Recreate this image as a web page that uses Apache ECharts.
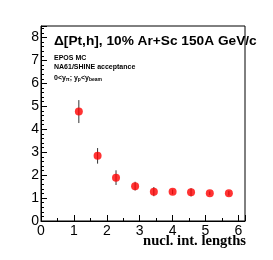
<!DOCTYPE html>
<html><head><meta charset="utf-8">
<script src="https://cdn.jsdelivr.net/npm/echarts@6/dist/echarts.min.js"></script>
<style>html,body{margin:0;padding:0;background:#fff}#c{width:273px;height:260px}</style>
</head><body><div id="c"></div>
<script>
const xVals = [1.15, 1.72, 2.28, 2.86, 3.43, 4.00, 4.56, 5.13, 5.71];
const yVals = [4.77, 2.84, 1.89, 1.52, 1.28, 1.27, 1.25, 1.21, 1.21];
const yErr  = [0.50, 0.34, 0.32, 0.19, 0.20, 0.10, 0.18, 0.08, 0.10];
const xTickLabels = ['0','1','2','3','4','5','6'];
const yTickLabels = ['0','1','2','3','4','5','6','7','8'];

const pts = xVals.map((x,i)=>[x, yVals[i]]);
const errs = xVals.map((x,i)=>[x, yVals[i]-yErr[i], yVals[i]+yErr[i]]);
const chart = echarts.init(document.getElementById('c'), null, {renderer:'canvas'});
const labelFmt = (arr)=> v => { const s = String(v); return arr.indexOf(s) >= 0 ? s : ''; };
chart.setOption({
  animation:false,
  grid:{left:41, top:26, width:204, height:195, show:true, borderColor:'#000', borderWidth:1, backgroundColor:'transparent'},
  xAxis:{type:'value', min:0, max:6.2, interval:1,
    axisLine:{show:true, onZero:false, lineStyle:{color:'#000', width:1}},
    axisTick:{show:true, inside:true, length:6, lineStyle:{color:'#000'}},
    minorTick:{show:true, splitNumber:2, length:3, lineStyle:{color:'#000'}},
    splitLine:{show:false},
    axisLabel:{formatter:labelFmt(xTickLabels), color:'#000', fontSize:14, fontFamily:'Liberation Sans', margin:3, showMaxLabel:false}
  },
  yAxis:{type:'value', min:0, max:8.5, interval:1,
    axisLine:{show:true, onZero:false, lineStyle:{color:'#000', width:1}},
    axisTick:{show:true, inside:true, length:6, lineStyle:{color:'#000'}},
    minorTick:{show:true, splitNumber:5, length:3, lineStyle:{color:'#000'}},
    splitLine:{show:false},
    axisLabel:{formatter:labelFmt(yTickLabels), color:'#000', fontSize:14, fontFamily:'Liberation Sans', margin:2, showMaxLabel:false}
  },
  series:[
    {type:'custom', data:errs, z:2,
     renderItem:(params, api)=>{
       const x = api.value(0);
       const lo = api.coord([x, api.value(1)]);
       const hi = api.coord([x, api.value(2)]);
       return {type:'line', shape:{x1:lo[0], y1:lo[1], x2:hi[0], y2:hi[1]}, style:{stroke:'#333', lineWidth:1}};
     }},
    {type:'scatter', data:pts, symbol:'circle', symbolSize:8, itemStyle:{color:'#ff0000'}, z:3}
  ],
  graphic:[
    {type:'text', left:54, top:34, style:{text:'Δ[Pt,h], 10% Ar+Sc 150A GeV/c', font:'bold 13.7px "Liberation Sans"', fill:'#000'}},
    {type:'text', left:54, top:55, style:{text:'EPOS MC', font:'bold 7px "Liberation Sans"', fill:'#000'}},
    {type:'text', left:54, top:64, style:{text:'NA61/SHINE acceptance', font:'bold 7px "Liberation Sans"', fill:'#000'}},
    {type:'text', left:54, top:75, style:{
      text:'0<y{s|π}; y{s|p}<y{s|beam}',
      font:'bold 7px "Liberation Sans"', fill:'#000',
      rich:{s:{fontSize:5, fontWeight:'bold', fontFamily:'Liberation Sans', verticalAlign:'bottom', padding:[3,0,0,0], fill:'#000'}}
    }},
    {type:'text', right:27, top:234, style:{text:'nucl. int. lengths', font:'bold 14.6px "Liberation Serif"', fill:'#000'}}
  ]
});
</script></body></html>
